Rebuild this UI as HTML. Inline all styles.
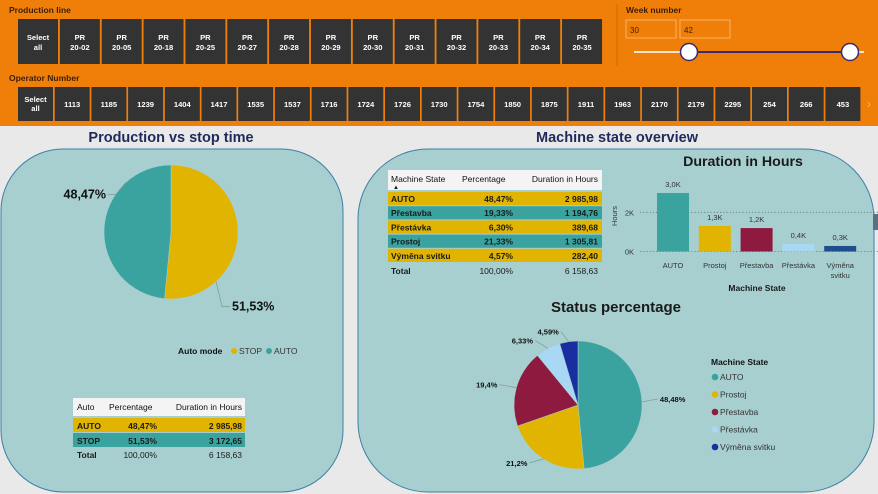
<!DOCTYPE html>
<html><head><meta charset="utf-8"><style>
html,body{margin:0;padding:0;background:#e9e9e9;}
svg{display:block;font-family:"Liberation Sans",Arial,sans-serif;}
</style></head><body>
<svg id="root" width="878" height="494" viewBox="0 0 878 494">
<rect x="0" y="0" width="878" height="494" fill="#e9e9e9"/>
<rect x="0" y="0" width="878" height="126" fill="#f07f09"/>
<text x="9" y="13" font-size="8.5" font-weight="bold" fill="#3a1f05">Production line</text>
<g id="prodline"></g>
<line x1="617" y1="4" x2="617" y2="66" stroke="#d06a00" stroke-width="1"/>
<text x="626" y="13" font-size="8.5" font-weight="bold" fill="#3a1f05">Week number</text>
<rect x="626" y="20" width="50" height="18" fill="none" stroke="#f5b060"/>
<text x="630" y="33" font-size="8" fill="#3a1f05">30</text>
<rect x="680" y="20" width="50" height="18" fill="none" stroke="#f5b060"/>
<text x="684" y="33" font-size="8" fill="#3a1f05">42</text>
<line x1="634" y1="52" x2="689" y2="52" stroke="#fbe7d0" stroke-width="2"/>
<line x1="689" y1="52" x2="850" y2="52" stroke="#3b2a6b" stroke-width="2"/>
<line x1="850" y1="52" x2="864" y2="52" stroke="#fbe7d0" stroke-width="2"/>
<circle cx="689" cy="52" r="8.5" fill="#fff" stroke="#3b2a6b" stroke-width="1.5"/>
<circle cx="850" cy="52" r="8.5" fill="#fff" stroke="#3b2a6b" stroke-width="1.5"/>
<text x="9" y="81" font-size="8.5" font-weight="bold" fill="#3a1f05">Operator Number</text>
<g id="operators"></g>
<text x="867" y="108" font-size="12" fill="#f8b56a">›</text>

<text x="171" y="142" text-anchor="middle" font-size="14.5" font-weight="900" fill="#1f2a5a">Production vs stop time</text>
<rect x="1" y="149" width="342" height="343" rx="62" fill="#a8cfcf" stroke="#3d7fa8" stroke-width="1"/>
<text x="617" y="142" text-anchor="middle" font-size="14.5" font-weight="900" fill="#1f2a5a">Machine state overview</text>
<rect x="358" y="149" width="516" height="343" rx="70" fill="#a8cfcf" stroke="#3d7fa8" stroke-width="1"/>
<rect x="873" y="214" width="5" height="16" fill="#5a6f80"/>

<g id="pie1"></g>
<g>
<text x="178" y="354" font-size="8.5" font-weight="bold" fill="#111">Auto mode</text>
<circle cx="234" cy="351" r="3" fill="#e0b400"/>
<text x="239" y="354" font-size="8.5" fill="#333">STOP</text>
<circle cx="269" cy="351" r="3" fill="#3aa3a0"/>
<text x="274" y="354" font-size="8.5" fill="#333">AUTO</text>
</g>
<g>
<rect x="73" y="398" width="172" height="18" fill="#f4f4f4"/>
<text x="77" y="410" font-size="8.5" fill="#111">Auto</text>
<text x="109" y="410" font-size="8.5" fill="#111">Percentage</text>
<text x="242" y="410" text-anchor="end" font-size="8.5" fill="#111">Duration in Hours</text>
<rect x="73" y="418" width="172" height="14" fill="#e0b400"/>
<text x="77" y="429" font-size="8.5" font-weight="bold" fill="#1a1a1a">AUTO</text>
<text x="157" y="429" text-anchor="end" font-size="8.5" font-weight="bold" fill="#1a1a1a">48,47%</text>
<text x="242" y="429" text-anchor="end" font-size="8.5" font-weight="bold" fill="#1a1a1a">2 985,98</text>
<rect x="73" y="433" width="172" height="14" fill="#3aa3a0"/>
<text x="77" y="444" font-size="8.5" font-weight="bold" fill="#1a1a1a">STOP</text>
<text x="157" y="444" text-anchor="end" font-size="8.5" font-weight="bold" fill="#1a1a1a">51,53%</text>
<text x="242" y="444" text-anchor="end" font-size="8.5" font-weight="bold" fill="#1a1a1a">3 172,65</text>
<text x="77" y="458" font-size="8.5" font-weight="bold" fill="#1a1a1a">Total</text>
<text x="157" y="458" text-anchor="end" font-size="8.5" fill="#1a1a1a">100,00%</text>
<text x="242" y="458" text-anchor="end" font-size="8.5" fill="#1a1a1a">6 158,63</text>
</g>

<g id="mtable">
<rect x="388" y="170" width="214" height="20" fill="#f4f4f4"/>
<text x="391" y="182" font-size="8.5" fill="#111">Machine State</text>
<text x="393" y="189" font-size="6" fill="#111">▲</text>
<text x="462" y="182" font-size="8.5" fill="#111">Percentage</text>
<text x="598" y="182" text-anchor="end" font-size="8.5" fill="#111">Duration in Hours</text>
</g>

<g id="bars"></g>
<text x="616" y="312" text-anchor="middle" font-size="15" font-weight="900" fill="#1a1a1a">Status percentage</text>
<g id="pie2"></g>
<g id="legend2">
<text x="711" y="365" font-size="8.5" font-weight="bold" fill="#111">Machine State</text>
</g>
</svg>
<script>
const NS="http://www.w3.org/2000/svg";
function mk(tag,attrs,parent,txt){const e=document.createElementNS(NS,tag);for(const k in attrs)e.setAttribute(k,attrs[k]);if(txt!==undefined)e.textContent=txt;parent.appendChild(e);return e;}

const prodLines=["Select all","PR 20-02","PR 20-05","PR 20-18","PR 20-25","PR 20-27","PR 20-28","PR 20-29","PR 20-30","PR 20-31","PR 20-32","PR 20-33","PR 20-34","PR 20-35"];
const operators=["Select all","1113","1185","1239","1404","1417","1535","1537","1716","1724","1726","1730","1754","1850","1875","1911","1963","2170","2179","2295","254","266","453"];
const pg=document.getElementById('prodline');
prodLines.forEach((p,i)=>{
  const x=18+i*41.85;
  const r=mk('rect',{x:x,y:19,width:40,height:45,fill:'#333'},pg);
  
  
  const parts=p==="Select all"?["Select","all"]:p.split(" ");
  parts.forEach((t,j)=>{const tx=mk('text',{x:x+20,y:40+j*10,'text-anchor':'middle','font-size':7.6,'font-weight':'bold',fill:'#fff'},pg,t);
    
    });
});
const og=document.getElementById('operators');
operators.forEach((p,i)=>{
  const x=18+i*36.7;
  const r=mk('rect',{x:x,y:87,width:35,height:34,fill:'#333'},og);
  
  
  const parts=p==="Select all"?["Select","all"]:[p];
  parts.forEach((t,j)=>{const tx=mk('text',{x:x+17.5,y:(parts.length>1?102:107)+j*9,'text-anchor':'middle','font-size':7.6,'font-weight':'bold',fill:'#fff'},og,t);
    
    });
});

function pie(g,cx,cy,r,vals,cols,names){
  const tot=vals.reduce((a,b)=>a+b,0);let a=0;const mids=[];
  vals.forEach((v,i)=>{
    const a0=a,a1=a+v/tot*2*Math.PI;a=a1;
    const p0=[cx+r*Math.sin(a0),cy-r*Math.cos(a0)],p1=[cx+r*Math.sin(a1),cy-r*Math.cos(a1)];
    const large=(a1-a0)>Math.PI?1:0;
    const s=mk('path',{d:`M${cx},${cy}L${p0[0]},${p0[1]}A${r},${r} 0 ${large} 1 ${p1[0]},${p1[1]}Z`,fill:cols[i],stroke:'#a8cfcf','stroke-width':0.5},g);
    
    
    mids.push((a0+a1)/2);
  });
  return mids;
}

const modeNames=["stop","auto"];
const modeValues=[51.53,48.47];
const modeLabels=["51,53%","48,47%"];
const g1=document.getElementById('pie1');
const m1=pie(g1,171,232,67,modeValues,["#e0b400","#3aa3a0"],modeNames);
const modeOff=[[6,25],[-10,12]];
m1.forEach((a0,i)=>{
  const a=a0+Math.PI/4;
  const px=171+67*Math.sin(a),py=232-67*Math.cos(a);
  const right=Math.sin(a)>0;
  const ex=px+modeOff[i][0],ey=py+modeOff[i][1];
  const l=mk('polyline',{points:`${px},${py} ${ex},${ey} ${ex+(right?8:-8)},${ey}`,fill:'none',stroke:'#7a9a9a','stroke-width':0.7},g1);
  
  
  const t=mk('text',{x:ex+(right?10:-10),y:ey+4,'text-anchor':right?'start':'end','font-size':12.5,'font-weight':'bold',fill:'#111'},g1,modeLabels[i]);
  
  
});

const tStates=["AUTO","Přestavba","Přestávka","Prostoj","Výměna svitku"];
const tPct=["48,47%","19,33%","6,30%","21,33%","4,57%"];
const tDur=["2 985,98","1 194,76","389,68","1 305,81","282,40"];
const mt=document.getElementById('mtable');
tStates.forEach((s,i)=>{
  const y=192+i*14.2;
  const r=mk('rect',{x:388,y:y,width:214,height:13.2,fill:i%2?'#3aa3a0':'#e0b400'},mt);
  
  
  [[391,'start',s],[513,'end',tPct[i]],[598,'end',tDur[i]]].forEach(c=>{
    const t=mk('text',{x:c[0],y:y+10,'text-anchor':c[1],'font-size':8.5,'font-weight':'bold',fill:'#1a1a1a'},mt,c[2]);
    
    
  });
});
[[391,'start','Total',1],[513,'end','100,00%',0],[598,'end','6 158,63',0]].forEach(c=>{
  const t=mk('text',{x:c[0],y:274,'text-anchor':c[1],'font-size':8.5,'font-weight':c[3]?'bold':'normal',fill:'#1a1a1a'},mt,c[2]);
  
  
});

const barCats=[["AUTO"],["Prostoj"],["Přestavba"],["Přestávka"],["Výměna","svitku"]];
const barValues=[2985.98,1305.81,1194.76,389.68,282.40];
const barLabels=["3,0K","1,3K","1,2K","0,4K","0,3K"];
const yTicks=[0,2000];
const yTickLabels=["0K","2K"];
const barColors=["#3aa3a0","#e0b400","#8e1a3f","#a9d8f5","#1f4e8c"];
const bg=document.getElementById('bars');
const y0=251.5,perK=19.6;
const yS=v=>y0-v/1000*perK;
const xS=i=>657+i*41.8;
const bt=mk('text',{x:743,y:166,'text-anchor':'middle','font-size':14.2,'font-weight':'900',fill:'#1a1a1a'},bg,'Duration in Hours');


yTicks.forEach((v,i)=>{
  const l=mk('line',{x1:640,y1:yS(v),x2:878,y2:yS(v),stroke:'#5a7a7a','stroke-width':0.8,'stroke-dasharray':'1.2,2'},bg);
  
  
  const t=mk('text',{x:634,y:yS(v)+3,'text-anchor':'end','font-size':7.5,fill:'#333'},bg,yTickLabels[i]);
  
  
});
const yt=mk('text',{x:617,y:216,'text-anchor':'middle','font-size':7.5,fill:'#333',transform:'rotate(-90 617 216)'},bg,'Hours');


barValues.forEach((v,i)=>{
  const r=mk('rect',{x:xS(i),y:yS(v),width:32,height:y0-yS(v),fill:barColors[i]},bg);
  
  
  const t=mk('text',{x:xS(i)+16,y:yS(v)-6,'text-anchor':'middle','font-size':7.5,fill:'#333'},bg,barLabels[i]);
  
  
  barCats[i].forEach((c,j)=>{
    const ct=mk('text',{x:xS(i)+16,y:268+j*10,'text-anchor':'middle','font-size':7.5,fill:'#333'},bg,c);
    
    
  });
});
const xt=mk('text',{x:757,y:291,'text-anchor':'middle','font-size':8.5,'font-weight':'bold',fill:'#1a1a1a'},bg,'Machine State');



const statusNames=["AUTO","Prostoj","Přestavba","Přestávka","Výměna svitku"];
const statusValues=[48.48,21.2,19.4,6.33,4.59];
const statusLabels=["48,48%","21,2%","19,4%","6,33%","4,59%"];
const statusColors=["#3aa3a0","#e0b400","#8e1a3f","#a9d8f5","#1a2ea0"];
const g2=document.getElementById('pie2');
const cx2=578,cy2=405,r2=64;
const m2=pie(g2,cx2,cy2,r2,statusValues,statusColors,statusNames.map(s=>s.toLowerCase().replace(' ','-')));
const labelOff=[[16,-3],[-14,4],[-17,-3],[-13,-8],[-8,-10]];
m2.forEach((a,i)=>{
  const px=cx2+r2*Math.sin(a),py=cy2-r2*Math.cos(a);
  const right=Math.sin(a)>0;
  const lx=px+labelOff[i][0],ly=py+labelOff[i][1];
  const l=mk('line',{x1:px,y1:py,x2:lx,y2:ly,stroke:'#7a9a9a','stroke-width':0.7},g2);
  
  
  const t=mk('text',{x:lx+(right?2:-2),y:ly+3,'text-anchor':right?'start':'end','font-size':7.5,'font-weight':'bold',fill:'#111'},g2,statusLabels[i]);
  
  
});
const lg=document.getElementById('legend2');
statusNames.forEach((n,i)=>{
  const y=377+i*17.5;
  const c=mk('circle',{cx:715,cy:y,r:3.3,fill:statusColors[i]},lg);
  
  
  const t=mk('text',{x:720,y:y+3,'font-size':8.5,fill:'#333'},lg,n);
  
  
});
</script>
</body></html>
